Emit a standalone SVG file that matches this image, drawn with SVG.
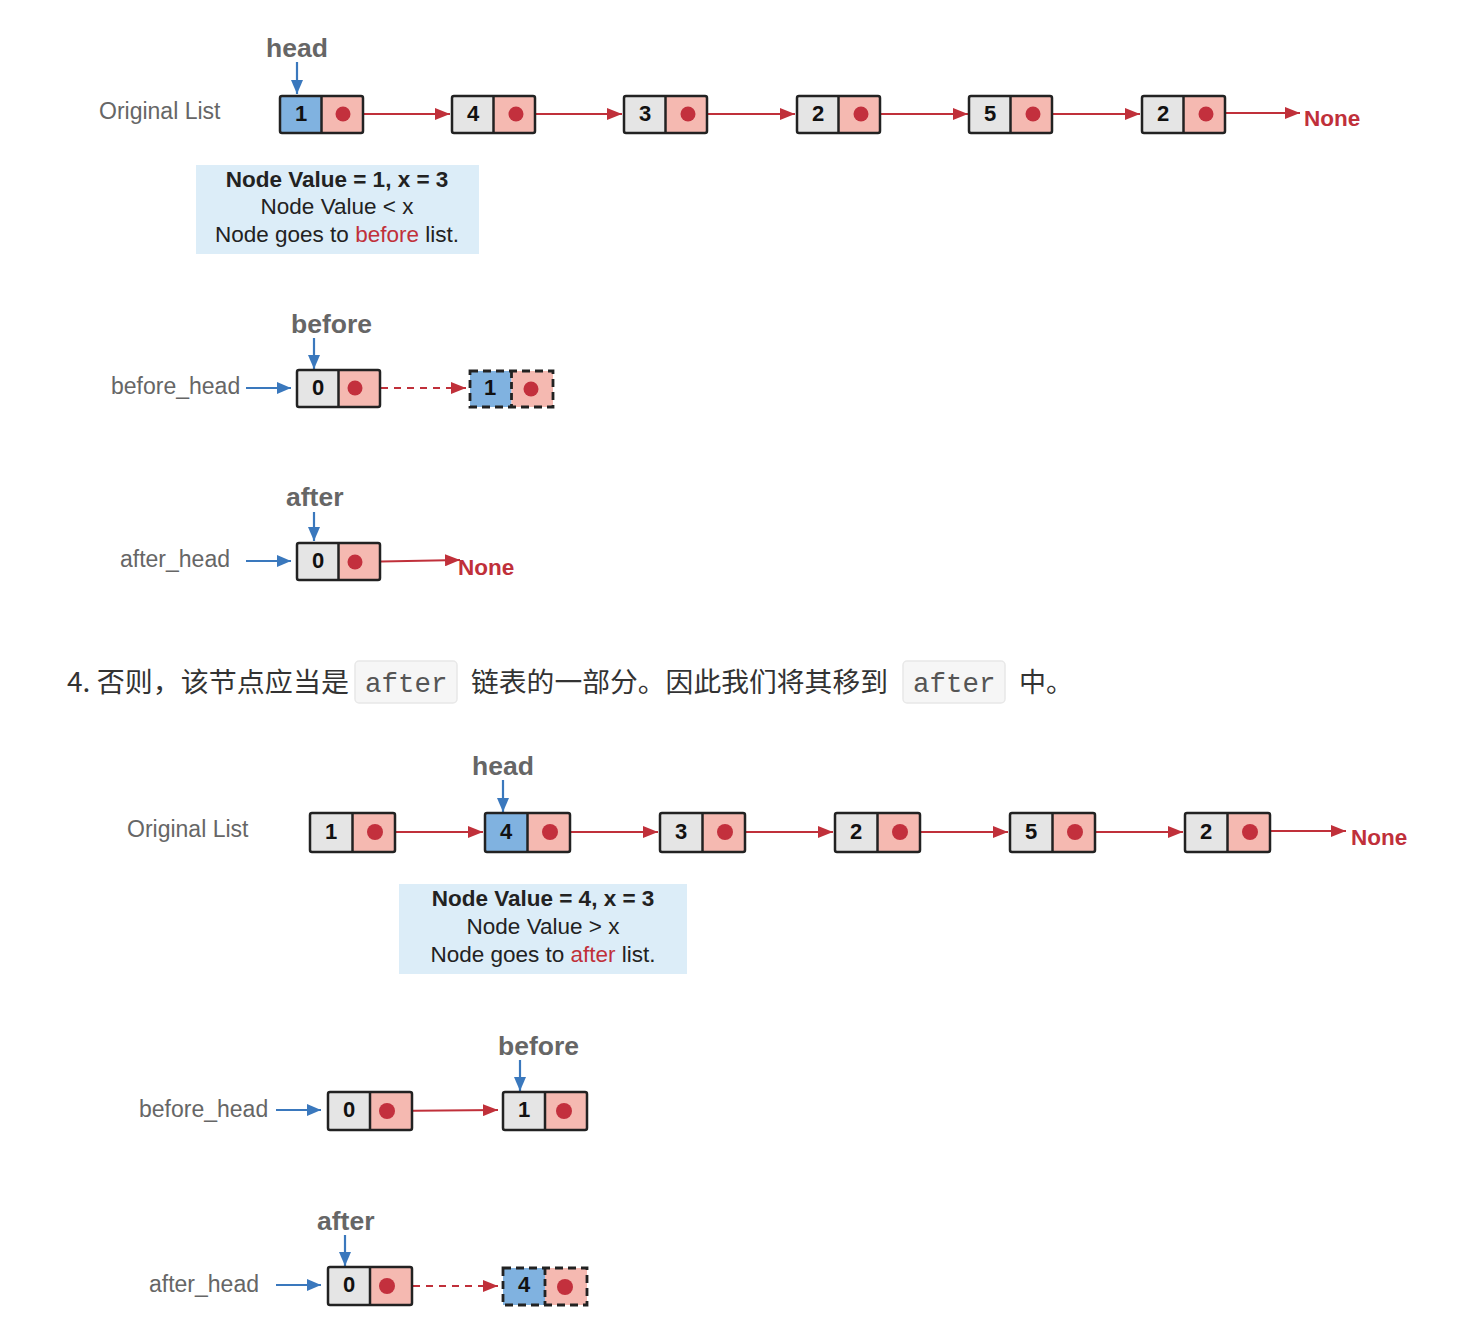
<svg xmlns="http://www.w3.org/2000/svg" width="1468" height="1342" viewBox="0 0 1468 1342">
<defs>
<style>
.lbl{font-family:"Liberation Sans",Arial,sans-serif;font-size:23px;fill:#666}
.ptr{font-family:"Liberation Sans",Arial,sans-serif;font-size:26.5px;font-weight:bold;fill:#666}
.none{font-family:"Liberation Sans",Arial,sans-serif;font-size:22.5px;font-weight:bold;fill:#c0303a}
.num{font-family:"Liberation Sans",Arial,sans-serif;font-size:22px;font-weight:bold;fill:#111;text-anchor:middle}
.info{font-family:"Liberation Sans",Arial,sans-serif;font-size:22.5px;fill:#222;text-anchor:middle}
.g{fill:#e5e5e5}.p{fill:#f5b9b1}.b{fill:#80b2e0}
.box{fill:none;stroke:#222;stroke-width:2.5}
.dash{fill:none;stroke:#222;stroke-width:2.8;stroke-dasharray:8 5}
.dot{fill:#c3303d}
.rl{stroke:#c0303a;stroke-width:2;fill:none;marker-end:url(#ra)}
.rd{stroke:#c0303a;stroke-width:2.2;fill:none;stroke-dasharray:7 6;marker-end:url(#ra)}
.bl{stroke:#3a78bd;stroke-width:2.2;fill:none;marker-end:url(#ba)}
.cjk{font-family:"Noto Sans CJK SC","Liberation Sans",sans-serif;font-size:27px;fill:#333}
.code{font-family:"Liberation Mono","Courier New",monospace;font-size:27.5px;fill:#555}
.cbox{fill:#f6f6f6;stroke:#e8e8e8;stroke-width:1.5}
</style>
<marker id="ra" markerUnits="userSpaceOnUse" markerWidth="16" markerHeight="12" refX="15" refY="6" orient="auto"><path d="M0,0 L15,6 L0,12 z" fill="#c0303a"/></marker>
<marker id="ba" markerUnits="userSpaceOnUse" markerWidth="14" markerHeight="12" refX="14" refY="6" orient="auto"><path d="M0,0 L14,6 L0,12 z" fill="#3a78bd"/></marker>
</defs>
<rect width="1468" height="1342" fill="#fff"/>

<!-- ===== Section 1 ===== -->
<g id="labels1">
<text class="lbl" x="99" y="119">Original List</text>
<text class="ptr" x="266" y="57">head</text>
<text class="none" x="1304" y="126">None</text>
</g>
<g id="connectors1">
<path class="bl" d="M297,62 V94"/>
<path class="rl" d="M343,114 H450"/>
<path class="rl" d="M516,114 H622"/>
<path class="rl" d="M688,114 H795"/>
<path class="rl" d="M861,114 H968"/>
<path class="rl" d="M1033,114 H1140"/>
<path class="rl" d="M1206,113 H1300"/>
</g>
<g id="n1a"><rect class="b" x="280" y="96" width="41.5" height="37"/><rect class="p" x="321.5" y="96" width="41.5" height="37"/><rect class="box" x="280" y="96" width="83" height="37" rx="2"/><line x1="321.5" y1="96" x2="321.5" y2="133" stroke="#222" stroke-width="2.5"/><text class="num" x="301" y="121">1</text><circle class="dot" cx="343" cy="114" r="7.5"/></g>
<g id="n4a"><rect class="g" x="452" y="96" width="41.5" height="37"/><rect class="p" x="493.5" y="96" width="41.5" height="37"/><rect class="box" x="452" y="96" width="83" height="37" rx="2"/><line x1="493.5" y1="96" x2="493.5" y2="133" stroke="#222" stroke-width="2.5"/><text class="num" x="473" y="121">4</text><circle class="dot" cx="516" cy="114" r="7.5"/></g>
<g id="n3a"><rect class="g" x="624" y="96" width="41.5" height="37"/><rect class="p" x="665.5" y="96" width="41.5" height="37"/><rect class="box" x="624" y="96" width="83" height="37" rx="2"/><line x1="665.5" y1="96" x2="665.5" y2="133" stroke="#222" stroke-width="2.5"/><text class="num" x="645" y="121">3</text><circle class="dot" cx="688" cy="114" r="7.5"/></g>
<g id="n2a"><rect class="g" x="797" y="96" width="41.5" height="37"/><rect class="p" x="838.5" y="96" width="41.5" height="37"/><rect class="box" x="797" y="96" width="83" height="37" rx="2"/><line x1="838.5" y1="96" x2="838.5" y2="133" stroke="#222" stroke-width="2.5"/><text class="num" x="818" y="121">2</text><circle class="dot" cx="861" cy="114" r="7.5"/></g>
<g id="n5a"><rect class="g" x="969" y="96" width="41.5" height="37"/><rect class="p" x="1010.5" y="96" width="41.5" height="37"/><rect class="box" x="969" y="96" width="83" height="37" rx="2"/><line x1="1010.5" y1="96" x2="1010.5" y2="133" stroke="#222" stroke-width="2.5"/><text class="num" x="990" y="121">5</text><circle class="dot" cx="1033" cy="114" r="7.5"/></g>
<g id="n2b"><rect class="g" x="1142" y="96" width="41.5" height="37"/><rect class="p" x="1183.5" y="96" width="41.5" height="37"/><rect class="box" x="1142" y="96" width="83" height="37" rx="2"/><line x1="1183.5" y1="96" x2="1183.5" y2="133" stroke="#222" stroke-width="2.5"/><text class="num" x="1163" y="121">2</text><circle class="dot" cx="1206" cy="114" r="7.5"/></g>

<g id="info1">
<rect x="196" y="165" width="283" height="89" fill="#dcedf8"/>
<text class="info" x="337" y="187" font-weight="bold">Node Value = 1, x = 3</text>
<text class="info" x="337" y="214">Node Value &lt; x</text>
<text class="info" x="337" y="242">Node goes to <tspan fill="#c0303a">before</tspan> list.</text>
</g>

<!-- before 1 -->
<g id="before1-labels">
<text class="lbl" x="111" y="394">before_head</text>
<text class="ptr" x="291" y="333">before</text>
</g>
<g id="connectors2">
<path class="bl" d="M314,338 V369"/>
<path class="bl" d="M246,388 H291"/>
<path class="rd" d="M355,388 H466"/>
</g>
<g id="b0a"><rect class="g" x="297" y="370" width="41.5" height="37"/><rect class="p" x="338.5" y="370" width="41.5" height="37"/><rect class="box" x="297" y="370" width="83" height="37" rx="2"/><line x1="338.5" y1="370" x2="338.5" y2="407" stroke="#222" stroke-width="2.5"/><text class="num" x="318" y="395">0</text><circle class="dot" cx="355" cy="388" r="7.5"/></g>
<g id="b1a"><rect class="b" x="470" y="371" width="41.5" height="36"/><rect class="p" x="511.5" y="371" width="41.5" height="36"/><rect class="dash" x="470" y="371" width="83" height="36"/><line x1="511.5" y1="371" x2="511.5" y2="407" stroke="#222" stroke-width="2.8" stroke-dasharray="7 4"/><text class="num" x="490" y="395">1</text><circle class="dot" cx="531" cy="389" r="7.5"/></g>

<!-- after 1 -->
<g id="after1-labels">
<text class="lbl" x="120" y="567">after_head</text>
<text class="ptr" x="286" y="506">after</text>
<text class="none" x="458" y="575">None</text>
</g>
<g id="connectors3">
<path class="bl" d="M314,512 V541"/>
<path class="bl" d="M246,561 H291"/>
<path class="rl" d="M355,562 L460,560"/>
</g>
<g id="a0a"><rect class="g" x="297" y="543" width="41.5" height="37"/><rect class="p" x="338.5" y="543" width="41.5" height="37"/><rect class="box" x="297" y="543" width="83" height="37" rx="2"/><line x1="338.5" y1="543" x2="338.5" y2="580" stroke="#222" stroke-width="2.5"/><text class="num" x="318" y="568">0</text><circle class="dot" cx="355" cy="562" r="7.5"/></g>

<!-- paragraph -->
<g id="para">
<text class="cjk" x="67" y="692" textLength="282" lengthAdjust="spacingAndGlyphs">4. 否则，该节点应当是</text>
<rect class="cbox" x="355" y="661" width="102" height="42" rx="4"/>
<text class="code" x="365" y="692">after</text>
<text class="cjk" x="471" y="692" textLength="417" lengthAdjust="spacingAndGlyphs">链表的一部分。因此我们将其移到</text>
<rect class="cbox" x="903" y="661" width="102" height="42" rx="4"/>
<text class="code" x="913" y="692">after</text>
<text class="cjk" x="1019" y="692">中。</text>
</g>

<!-- ===== Section 2 ===== -->
<g id="labels4">
<text class="lbl" x="127" y="837">Original List</text>
<text class="ptr" x="472" y="775">head</text>
<text class="none" x="1351" y="845">None</text>
</g>
<g id="connectors4">
<path class="bl" d="M503,780 V812"/>
<path class="rl" d="M375,832 H483"/>
<path class="rl" d="M550,832 H658"/>
<path class="rl" d="M725,832 H833"/>
<path class="rl" d="M900,832 H1008"/>
<path class="rl" d="M1075,832 H1183"/>
<path class="rl" d="M1250,831 H1346"/>
</g>
<g id="m1"><rect class="g" x="310" y="813" width="42.5" height="39"/><rect class="p" x="352.5" y="813" width="42.5" height="39"/><rect class="box" x="310" y="813" width="85" height="39" rx="2"/><line x1="352.5" y1="813" x2="352.5" y2="852" stroke="#222" stroke-width="2.5"/><text class="num" x="331" y="839">1</text><circle class="dot" cx="375" cy="832" r="8"/></g>
<g id="m4"><rect class="b" x="485" y="813" width="42.5" height="39"/><rect class="p" x="527.5" y="813" width="42.5" height="39"/><rect class="box" x="485" y="813" width="85" height="39" rx="2"/><line x1="527.5" y1="813" x2="527.5" y2="852" stroke="#222" stroke-width="2.5"/><text class="num" x="506" y="839">4</text><circle class="dot" cx="550" cy="832" r="8"/></g>
<g id="m3"><rect class="g" x="660" y="813" width="42.5" height="39"/><rect class="p" x="702.5" y="813" width="42.5" height="39"/><rect class="box" x="660" y="813" width="85" height="39" rx="2"/><line x1="702.5" y1="813" x2="702.5" y2="852" stroke="#222" stroke-width="2.5"/><text class="num" x="681" y="839">3</text><circle class="dot" cx="725" cy="832" r="8"/></g>
<g id="m2"><rect class="g" x="835" y="813" width="42.5" height="39"/><rect class="p" x="877.5" y="813" width="42.5" height="39"/><rect class="box" x="835" y="813" width="85" height="39" rx="2"/><line x1="877.5" y1="813" x2="877.5" y2="852" stroke="#222" stroke-width="2.5"/><text class="num" x="856" y="839">2</text><circle class="dot" cx="900" cy="832" r="8"/></g>
<g id="m5"><rect class="g" x="1010" y="813" width="42.5" height="39"/><rect class="p" x="1052.5" y="813" width="42.5" height="39"/><rect class="box" x="1010" y="813" width="85" height="39" rx="2"/><line x1="1052.5" y1="813" x2="1052.5" y2="852" stroke="#222" stroke-width="2.5"/><text class="num" x="1031" y="839">5</text><circle class="dot" cx="1075" cy="832" r="8"/></g>
<g id="m2b"><rect class="g" x="1185" y="813" width="42.5" height="39"/><rect class="p" x="1227.5" y="813" width="42.5" height="39"/><rect class="box" x="1185" y="813" width="85" height="39" rx="2"/><line x1="1227.5" y1="813" x2="1227.5" y2="852" stroke="#222" stroke-width="2.5"/><text class="num" x="1206" y="839">2</text><circle class="dot" cx="1250" cy="832" r="8"/></g>

<g id="info2">
<rect x="399" y="884" width="288" height="90" fill="#dcedf8"/>
<text class="info" x="543" y="906" font-weight="bold">Node Value = 4, x = 3</text>
<text class="info" x="543" y="934">Node Value &gt; x</text>
<text class="info" x="543" y="962">Node goes to <tspan fill="#c0303a">after</tspan> list.</text>
</g>

<!-- before 2 -->
<g id="before2-labels">
<text class="lbl" x="139" y="1117">before_head</text>
<text class="ptr" x="498" y="1055">before</text>
</g>
<g id="connectors5">
<path class="bl" d="M520,1060 V1091"/>
<path class="bl" d="M276,1110 H321"/>
<path class="rl" d="M387,1111 L498,1110"/>
</g>
<g id="c0"><rect class="g" x="328" y="1092" width="42" height="38"/><rect class="p" x="370" y="1092" width="42" height="38"/><rect class="box" x="328" y="1092" width="84" height="38" rx="2"/><line x1="370" y1="1092" x2="370" y2="1130" stroke="#222" stroke-width="2.5"/><text class="num" x="349" y="1117">0</text><circle class="dot" cx="387" cy="1111" r="8"/></g>
<g id="c1"><rect class="g" x="503" y="1092" width="42" height="38"/><rect class="p" x="545" y="1092" width="42" height="38"/><rect class="box" x="503" y="1092" width="84" height="38" rx="2"/><line x1="545" y1="1092" x2="545" y2="1130" stroke="#222" stroke-width="2.5"/><text class="num" x="524" y="1117">1</text><circle class="dot" cx="564" cy="1111" r="8"/></g>

<!-- after 2 -->
<g id="after2-labels">
<text class="lbl" x="149" y="1292">after_head</text>
<text class="ptr" x="317" y="1230">after</text>
</g>
<g id="connectors6">
<path class="bl" d="M345,1235 V1266"/>
<path class="bl" d="M276,1285 H321"/>
<path class="rd" d="M387,1286 H498"/>
</g>
<g id="d0"><rect class="g" x="328" y="1267" width="42" height="38"/><rect class="p" x="370" y="1267" width="42" height="38"/><rect class="box" x="328" y="1267" width="84" height="38" rx="2"/><line x1="370" y1="1267" x2="370" y2="1305" stroke="#222" stroke-width="2.5"/><text class="num" x="349" y="1292">0</text><circle class="dot" cx="387" cy="1286" r="8"/></g>
<g id="d4"><rect class="b" x="503" y="1268" width="42" height="37"/><rect class="p" x="545" y="1268" width="42" height="37"/><rect class="dash" x="503" y="1268" width="84" height="37"/><line x1="545" y1="1268" x2="545" y2="1305" stroke="#222" stroke-width="2.8" stroke-dasharray="7 4"/><text class="num" x="524" y="1292">4</text><circle class="dot" cx="565" cy="1287" r="8"/></g>
</svg>
